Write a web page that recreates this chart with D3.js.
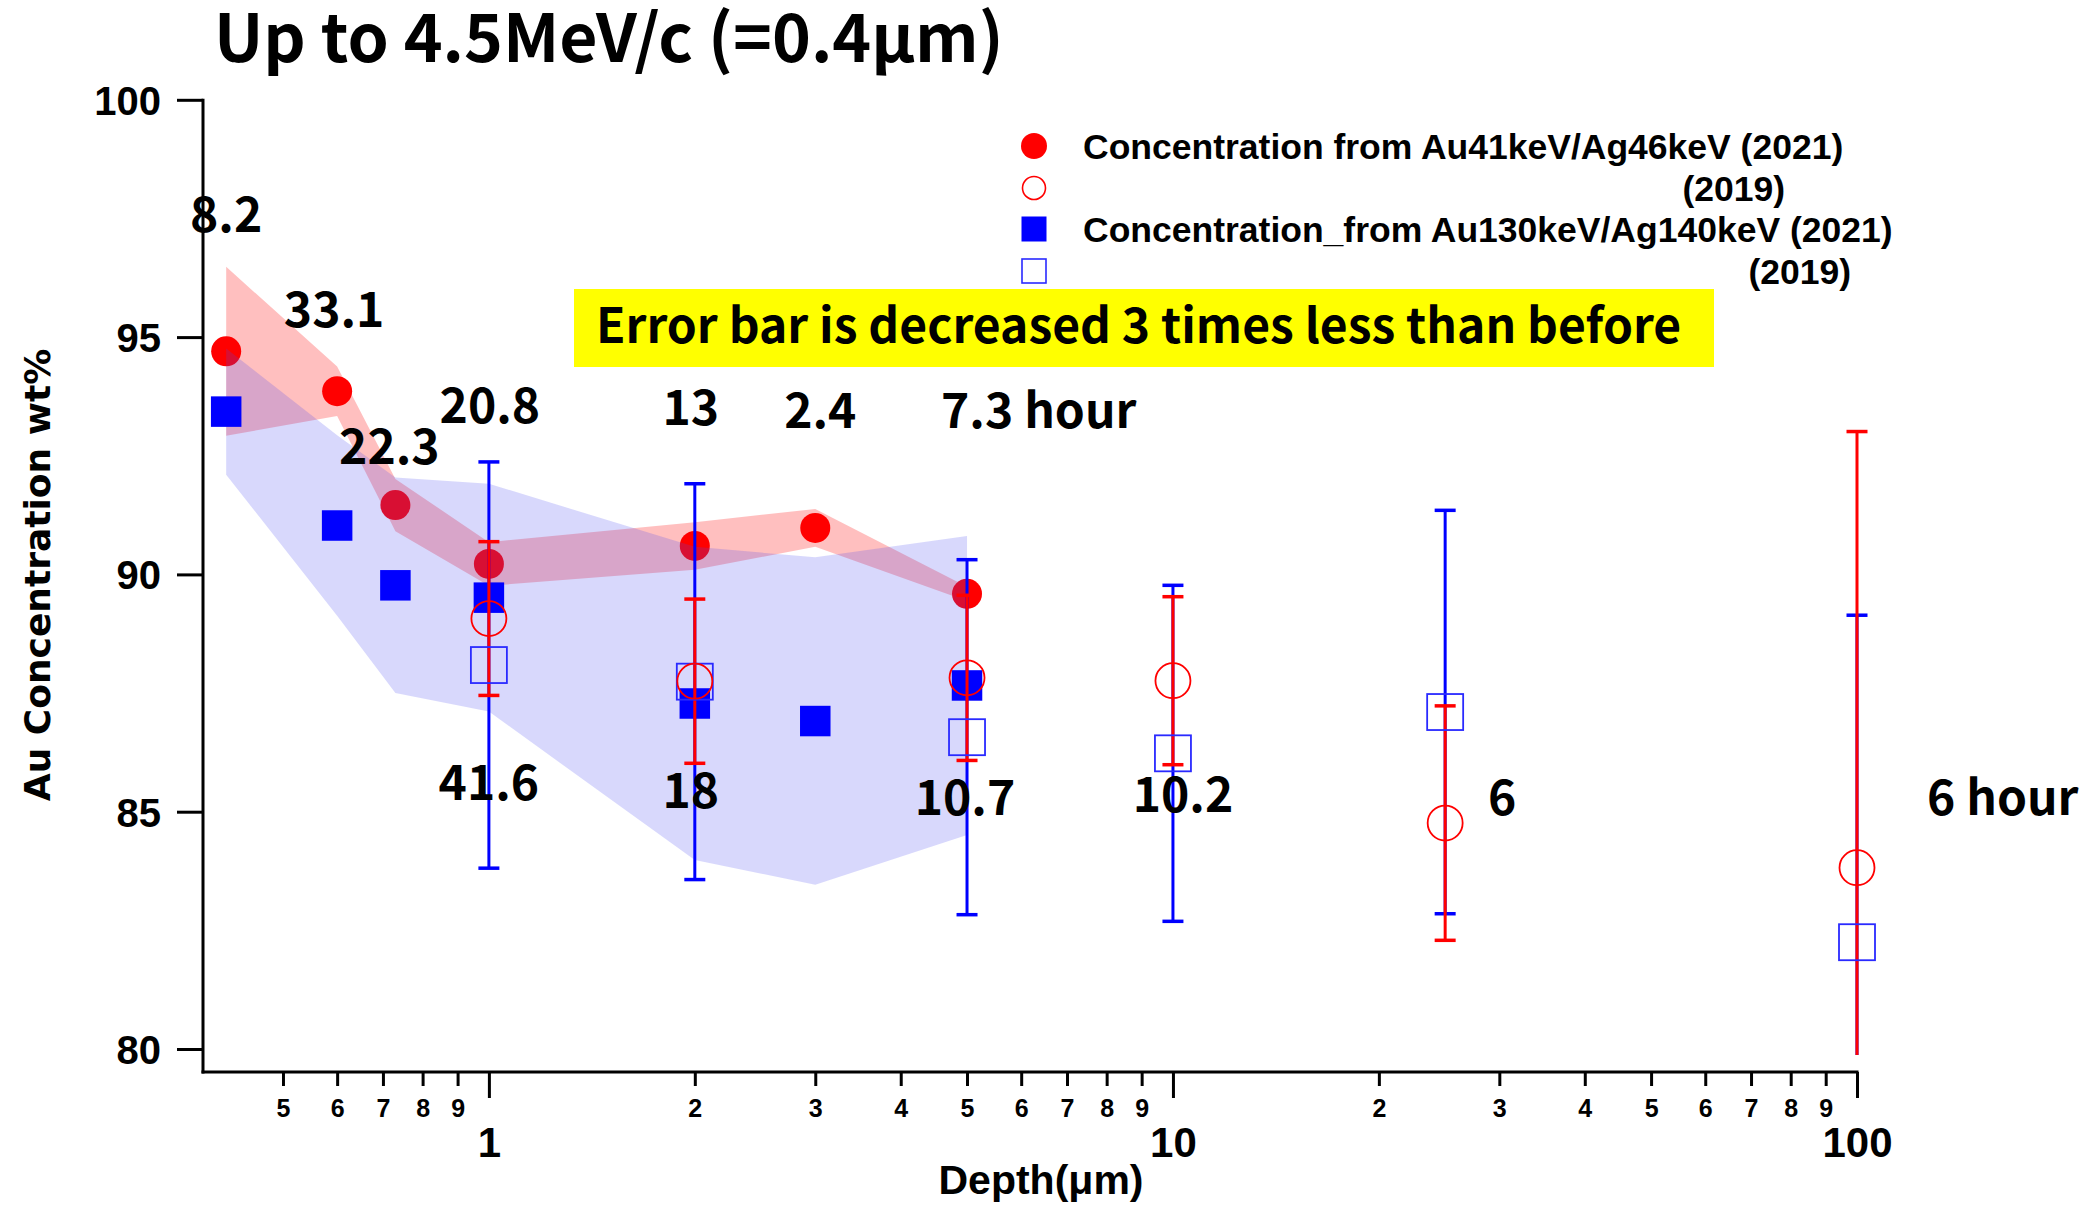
<!DOCTYPE html>
<html>
<head>
<meta charset="utf-8">
<script src="https://cdn.jsdelivr.net/npm/d3@7"></script>
<style>
  html, body { margin: 0; padding: 0; background: #ffffff; }
  svg { display: block; }
</style>
</head>
<body>
<svg id="chart" width="2087" height="1205"></svg>
<script>
// ---- measurements (depth in µm, Au concentration in wt%) ----
// 2021 run: Au41keV/Ag46keV ratio and Au130keV/Ag140keV ratio, with uncertainty bands
const depth2021 = [0.413, 0.6, 0.73, 1, 2, 3, 5];
const auLow2021 = [94.70, 93.86, 91.46, 90.22, 90.60, 90.98, 89.59];
const auLowErr2021 = [1.78, 0.52, 0.55, 0.46, 0.50, 0.40, 0.15];
const auHigh2021 = [93.43, 91.03, 89.77, 89.51, 87.28, 86.91, 87.66];
const auHighErr2021 = [1.33, 1.90, 2.27, 2.40, 3.30, 3.45, 3.15];
const hours2021 = ["8.2", "33.1", "22.3", "20.8", "13", "2.4", "7.3 hour"];

// 2019 run, with error bars
const depth2019 = [1, 2, 5, 10, 25, 100];
const auLow2019 = [89.07, 87.75, 87.82, 87.76, 84.76, 83.82];
const auLowErr2019 = [1.62, 1.73, 1.74, 1.77, 2.47, 9.19];
const auHigh2019 = [88.09, 87.74, 86.57, 86.23, 87.10, 82.25];
const auHighErr2019 = [4.28, 4.17, 3.74, 3.54, 4.25, 6.89];
const hours2019 = ["41.6", "18", "10.7", "10.2", "6", "6 hour"];

// axis ticks
const yTicks = [80, 85, 90, 95, 100];
const xMajorTicks = [1, 10, 100];
const xMinorTicks = [0.5, 0.6, 0.7, 0.8, 0.9, 2, 3, 4, 5, 6, 7, 8, 9, 20, 30, 40, 50, 60, 70, 80, 90];

const legendLabels = [
  "Concentration from Au41keV/Ag46keV (2021)",
  "(2019)",
  "Concentration_from Au130keV/Ag140keV (2021)",
  "(2019)"
];
const titleText = "Up to 4.5MeV/c (=0.4μm)";
const noteText = "Error bar is decreased 3 times less than before";

// placement of the measuring-time labels: pixel shift from the point, baseline in wt%
const hours2021Pos = [
  { dx: 0, at: 97.21, anchor: "middle" }, { dx: -3, at: 95.21, anchor: "middle" },
  { dx: -6, at: 92.33, anchor: "middle" }, { dx: 1, at: 93.19, anchor: "middle" },
  { dx: -4, at: 93.15, anchor: "middle" }, { dx: 5, at: 93.08, anchor: "middle" },
  { dx: -26, at: 93.08, anchor: "start" }
];
const hours2019Pos = [
  { dx: 0, at: 85.25, anchor: "middle" }, { dx: -4, at: 85.08, anchor: "middle" },
  { dx: -2, at: 84.93, anchor: "middle" }, { dx: 10, at: 84.99, anchor: "middle" },
  { dx: 57, at: 84.93, anchor: "middle" }, { dx: 70, at: 84.93, anchor: "start" }
];

// ---- styling ----
const RED = "#ff0000", BLUE = "#0000ff";
const ARIAL = "'Liberation Sans', Arial, sans-serif";
const GOTHIC = "'Noto Sans CJK JP', 'Noto Sans', sans-serif";

const svg = d3.select("#chart");
const x = d3.scaleLog().domain([0.382, 100]).range([203, 1857]);
const y = d3.scaleLinear().domain([80, 100]).range([1049, 99.8]);
const axisBase = 1072;           // vertical position of the depth axis line
const plotLeft = x.range()[0], plotRight = x.range()[1];

svg.append("defs").append("clipPath").attr("id", "plotClip")
  .append("rect")
  .attr("x", plotLeft).attr("y", 0)
  .attr("width", plotRight - plotLeft + 40)
  .attr("height", y(80) + 6);

// ---- title ----
svg.append("text")
  .attr("x", 214).attr("y", 62)
  .attr("font-family", GOTHIC).attr("font-weight", 700).attr("font-size", 66)
  .attr("fill", "#000").text(titleText);

// ---- uncertainty bands (2021) ----
function bandPath(vals, errs) {
  return d3.area()
    .x((d, i) => x(depth2021[i]))
    .y0((d, i) => y(vals[i] - errs[i]))
    .y1((d, i) => y(vals[i] + errs[i]))(vals);
}

const g = svg.append("g");

g.append("path").attr("d", bandPath(auLow2021, auLowErr2021))
  .attr("fill", RED).attr("fill-opacity", 0.25);

g.selectAll("circle.low2021").data(auLow2021).join("circle")
  .attr("class", "low2021")
  .attr("cx", (d, i) => x(depth2021[i])).attr("cy", d => y(d))
  .attr("r", 15).attr("fill", RED);

g.append("path").attr("d", bandPath(auHigh2021, auHighErr2021))
  .attr("fill", "rgb(70,70,240)").attr("fill-opacity", 0.21);

const sq = 30.5;
g.selectAll("rect.high2021").data(auHigh2021).join("rect")
  .attr("class", "high2021")
  .attr("x", (d, i) => x(depth2021[i]) - sq / 2).attr("y", d => y(d) - sq / 2)
  .attr("width", sq).attr("height", sq).attr("fill", BLUE);

// ---- error bars (2019) ----
function errorBars(cls, vals, errs, color) {
  const eb = g.append("g").attr("clip-path", "url(#plotClip)");
  const capW = 21;
  vals.forEach((v, i) => {
    const cx = x(depth2019[i]);
    eb.append("line").attr("class", cls)
      .attr("x1", cx).attr("x2", cx)
      .attr("y1", y(v - errs[i])).attr("y2", y(v + errs[i]))
      .attr("stroke", color).attr("stroke-width", 3);
    [v - errs[i], v + errs[i]].forEach(e => {
      eb.append("line").attr("class", cls)
        .attr("x1", cx - capW / 2).attr("x2", cx + capW / 2)
        .attr("y1", y(e)).attr("y2", y(e))
        .attr("stroke", color).attr("stroke-width", 3.5);
    });
  });
}
errorBars("errHigh", auHigh2019, auHighErr2019, BLUE);
errorBars("errLow", auLow2019, auLowErr2019, RED);

const osq = 36;
g.selectAll("rect.high2019").data(auHigh2019).join("rect")
  .attr("class", "high2019")
  .attr("x", (d, i) => x(depth2019[i]) - osq / 2).attr("y", d => y(d) - osq / 2)
  .attr("width", osq).attr("height", osq)
  .attr("fill", "none").attr("stroke", "#2a2aff").attr("stroke-width", 1.8);

g.selectAll("circle.low2019").data(auLow2019).join("circle")
  .attr("class", "low2019")
  .attr("cx", (d, i) => x(depth2019[i])).attr("cy", d => y(d))
  .attr("r", 17.5).attr("fill", "none").attr("stroke", RED).attr("stroke-width", 1.8);

// ---- measuring-time labels ----
function hourLabels(labels, pos, depths) {
  g.selectAll(null).data(labels).join("text")
    .attr("x", (d, i) => x(depths[i]) + pos[i].dx)
    .attr("y", (d, i) => y(pos[i].at))
    .attr("text-anchor", (d, i) => pos[i].anchor)
    .attr("font-family", GOTHIC).attr("font-weight", 700).attr("font-size", 48)
    .attr("fill", "#000").text(d => d);
}
hourLabels(hours2021, hours2021Pos, depth2021);
hourLabels(hours2019, hours2019Pos, depth2019);

// ---- note box ----
const note = svg.append("g");
note.append("rect").attr("x", 574).attr("y", 289).attr("width", 1140).attr("height", 78)
  .attr("fill", "#ffff00");
note.append("text").attr("x", 596).attr("y", 343)
  .attr("font-family", GOTHIC).attr("font-weight", 700).attr("font-size", 48)
  .attr("fill", "#000").text(noteText);

// ---- legend ----
const leg = svg.append("g");
const legX = 1034, legTextX = 1083;
const legRows = [146, 188, 229, 271];
leg.append("circle").attr("cx", legX).attr("cy", legRows[0]).attr("r", 13).attr("fill", RED);
leg.append("circle").attr("cx", legX).attr("cy", legRows[1]).attr("r", 11.5)
  .attr("fill", "none").attr("stroke", RED).attr("stroke-width", 1.6);
leg.append("rect").attr("x", legX - 12.5).attr("y", legRows[2] - 12.5).attr("width", 25).attr("height", 25)
  .attr("fill", BLUE);
leg.append("rect").attr("x", legX - 12).attr("y", legRows[3] - 12).attr("width", 24).attr("height", 24)
  .attr("fill", "none").attr("stroke", "#2a2aff").attr("stroke-width", 1.6);
const legEnds = [null, 1785, null, 1851];
legendLabels.forEach((t, i) => {
  leg.append("text")
    .attr("x", legEnds[i] === null ? legTextX : legEnds[i])
    .attr("y", legRows[i]).attr("dy", "0.36em")
    .attr("text-anchor", legEnds[i] === null ? "start" : "end")
    .attr("font-family", ARIAL).attr("font-weight", 700).attr("font-size", 35.5)
    .attr("fill", "#000").text(t);
});

// ---- axes ----
const axes = svg.append("g");
// left axis
const yAxis = axes.append("g").attr("transform", `translate(${plotLeft},0)`)
  .call(d3.axisLeft(y).tickValues(yTicks).tickSize(26).tickPadding(16).tickFormat(d3.format("d")));
yAxis.select(".domain").remove();
yAxis.selectAll(".tick line").attr("stroke", "#000").attr("stroke-width", 3);
yAxis.selectAll(".tick text").attr("font-family", ARIAL).attr("font-weight", 700)
  .attr("font-size", 40).attr("fill", "#000").attr("dy", "0.36em");

// bottom axis: minor then major ticks
const xMinor = axes.append("g").attr("transform", `translate(0,${axisBase})`)
  .call(d3.axisBottom(x).tickValues(xMinorTicks).tickSize(14).tickPadding(12)
    .tickFormat(d => String(Math.round(d / Math.pow(10, Math.floor(Math.log10(d) + 1e-9))))));
xMinor.select(".domain").remove();
xMinor.selectAll(".tick line").attr("stroke", "#000").attr("stroke-width", 3);
xMinor.selectAll(".tick text").attr("font-family", ARIAL).attr("font-weight", 700)
  .attr("font-size", 25).attr("fill", "#000").attr("y", 45).attr("dy", 0);

const xMajor = axes.append("g").attr("transform", `translate(0,${axisBase})`)
  .call(d3.axisBottom(x).tickValues(xMajorTicks).tickSize(26).tickPadding(12).tickFormat(d3.format("d")));
xMajor.select(".domain").remove();
xMajor.selectAll(".tick line").attr("stroke", "#000").attr("stroke-width", 3);
xMajor.selectAll(".tick text").attr("font-family", ARIAL).attr("font-weight", 700)
  .attr("font-size", 42).attr("fill", "#000").attr("y", 85).attr("dy", 0);

// axis lines
axes.append("line").attr("x1", plotLeft).attr("x2", plotLeft)
  .attr("y1", y(100) - 1).attr("y2", axisBase + 1.5)
  .attr("stroke", "#000").attr("stroke-width", 3);
axes.append("line").attr("x1", plotLeft - 1.5).attr("x2", plotRight + 1.5)
  .attr("y1", axisBase).attr("y2", axisBase)
  .attr("stroke", "#000").attr("stroke-width", 3);

// axis titles
svg.append("text")
  .attr("transform", `translate(50,575) rotate(-90)`)
  .attr("text-anchor", "middle")
  .attr("font-family", "'DejaVu Sans', Verdana, sans-serif").attr("font-weight", 700).attr("font-size", 36)
  .attr("fill", "#000").text("Au Concentration wt%");
svg.append("text")
  .attr("x", 1041).attr("y", 1194).attr("text-anchor", "middle")
  .attr("font-family", ARIAL).attr("font-weight", 700).attr("font-size", 41)
  .attr("fill", "#000").text("Depth(μm)");
</script>
</body>
</html>
